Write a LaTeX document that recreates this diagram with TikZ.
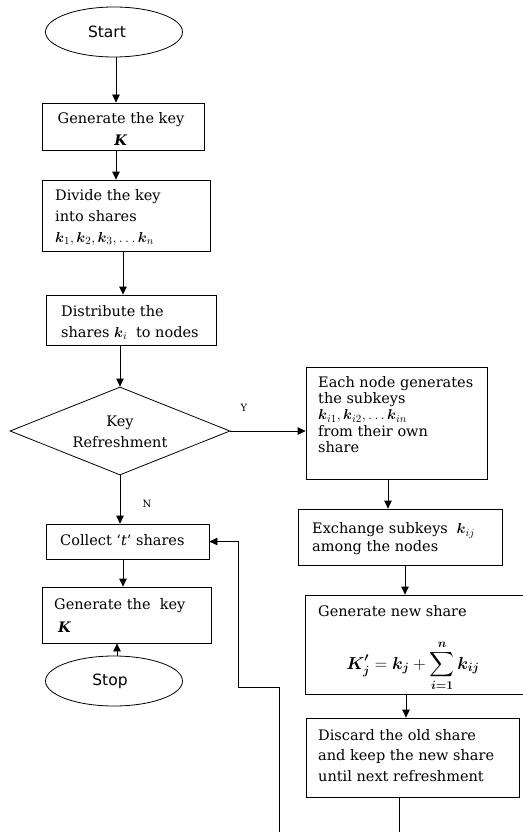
\documentclass[tikz,border=0pt]{standalone}
\usepackage{amsmath}
\usepackage{fontspec}
\setmainfont{DejaVu Serif}
\newfontfamily\ovalfont{DejaVu Sans}
\usetikzlibrary{shapes.geometric,arrows.meta}
\newcommand{\kb}{\boldsymbol{k}}
\newcommand{\shm}[1]{\mbox{\fontsize{15.5}{16}\selectfont$#1$}}
\tikzset{
  boxnode/.style={draw, line width=0.8pt, inner sep=0pt, minimum width=#1},
  ovalnode/.style={draw, ellipse, line width=0.8pt, inner sep=0pt, minimum width=137pt, minimum height=50pt, font=\ovalfont\fontsize{15.5}{17}\selectfont},
  txt/.style={inner sep=0pt, align=left, font=\fontsize{14.5}{#1}\selectfont},
  ctxt/.style={inner sep=0pt, align=center, font=\fontsize{14.5}{#1}\selectfont},
  lbl/.style={inner sep=0pt, font=\fontsize{10}{12}\selectfont},
  arr/.style={line width=0.8pt, -{Triangle[length=8pt,width=7.5pt]}}
}
\begin{document}
\begin{tikzpicture}[x=1pt,y=-1pt]
\useasboundingbox (0,0) rectangle (522,832);
% left column
\node[ovalnode] (start) at (114,32) {Start\kern14pt\relax};
\node[boxnode=162pt, minimum height=47pt] (gen1) at (123,126.5) {};
\node[ctxt=22pt] (tgen1) at (121,129) {Generate the key\\\textbf{\textit{K}}};
\node[boxnode=168pt, minimum height=71pt] (divide) at (126,215.5) {};
\node[txt=21pt, anchor=west] (tdivide) at (55,217.5) {Divide the key\\into shares\\\shm{\kb_1, \kb_2, \kb_3, \ldots \kb_n}};
\node[boxnode=170pt, minimum height=50pt] (distr) at (131,320) {};
\node[txt=21pt, anchor=west] (tdistr) at (61,322.5) {Distribute the\\shares \shm{\kb_i}\; to nodes};
\node[draw, diamond, line width=0.8pt, inner sep=0pt, minimum width=220pt, minimum height=88pt] (dia) at (120,431) {};
\node[ctxt=21pt] (tdia) at (120,431.5) {Key\\Refreshment};
\node[boxnode=163pt, minimum height=35pt] (collect) at (127.5,541.5) {};
\node[txt=16pt, anchor=west] (tcollect) at (60,540) {Collect `\textit{t}' shares};
\node[boxnode=169pt, minimum height=56pt] (gen2) at (126.5,615) {};
\node[txt=23pt, anchor=west] (tgen2) at (54,615.5) {Generate the\ \ key\\\hspace{4pt}\textbf{\textit{K}}};
\node[ovalnode] (stop) at (114,681) {Stop\kern8pt\relax};
% right column
\node[boxnode=181pt, minimum height=112pt] (each) at (396.5,423) {};
\node[txt=16.25pt, anchor=west] (teach) at (318,414.5) {Each node generates\\the subkeys\\\shm{\kb_{i1}, \kb_{i2}, \ldots \kb_{in}}\\from their own\\share};
\node[boxnode=204pt, minimum height=56pt] (exch) at (400,537) {};
\node[txt=18pt, anchor=west] (texch) at (312,539) {Exchange subkeys\; \shm{\kb_{ij}}\\among the nodes};
\node[boxnode=225pt, minimum height=99pt] (newsh) at (417.5,644.5) {};
\node[txt=16pt, anchor=west] (tnewsh) at (318,611) {Generate new share};
\node[inner sep=0pt, font=\fontsize{16.5}{18}\selectfont] (formula) at (413,666) {$\displaystyle \boldsymbol{K_j^{\prime}} = \boldsymbol{k_j} + \sum_{\boldsymbol{i=1}}^{\boldsymbol{n}} \boldsymbol{k_{ij}}$};
\node[boxnode=213pt, minimum height=79pt] (discard) at (412.5,757.5) {};
\node[txt=20.5pt, anchor=west] (tdiscard) at (318,755.5) {Discard the old share\\and keep the new share\\until next refreshment};
% labels
\node[lbl] (ly) at (244,408) {Y};
\node[lbl] (lN) at (147,504) {N};
% connectors
\draw[arr] ([xshift=2pt]start.south) -- ([xshift=2pt]start.south |- gen1.north);
\draw[arr] ([xshift=-7pt]gen1.south) -- ([xshift=-7pt]gen1.south |- divide.north);
\draw[arr] ([xshift=-3pt]divide.south) -- ([xshift=-3pt]divide.south |- distr.north);
\draw[arr] (distr.south -| dia.north) -- (dia.north);
\draw[arr] (dia.east) -- (dia.east -| each.west);
\draw[arr] (dia.south) -- (dia.south |- collect.north);
\draw[arr] ([xshift=-4.5pt]collect.south) -- ([xshift=-4.5pt]collect.south |- gen2.north);
\draw[arr] ([xshift=3pt]stop.north) -- ([xshift=3pt]stop.north |- gen2.south);
\draw[arr] ([xshift=-8.5pt]each.south) -- ([xshift=-8.5pt]each.south |- exch.north);
\draw[arr] ([xshift=5pt]exch.south) -- ([xshift=5pt]exch.south |- newsh.north);
\draw[arr] ([xshift=-11.5pt]newsh.south) -- ([xshift=-11.5pt]newsh.south |- discard.north);
\coordinate (fbbot) at (279,860);
\coordinate (fbmid) at (238,687);
\draw[arr] ([xshift=-13.5pt]discard.south) |- (fbbot) |- (fbmid) |- (collect.east);
\end{tikzpicture}
\end{document}
